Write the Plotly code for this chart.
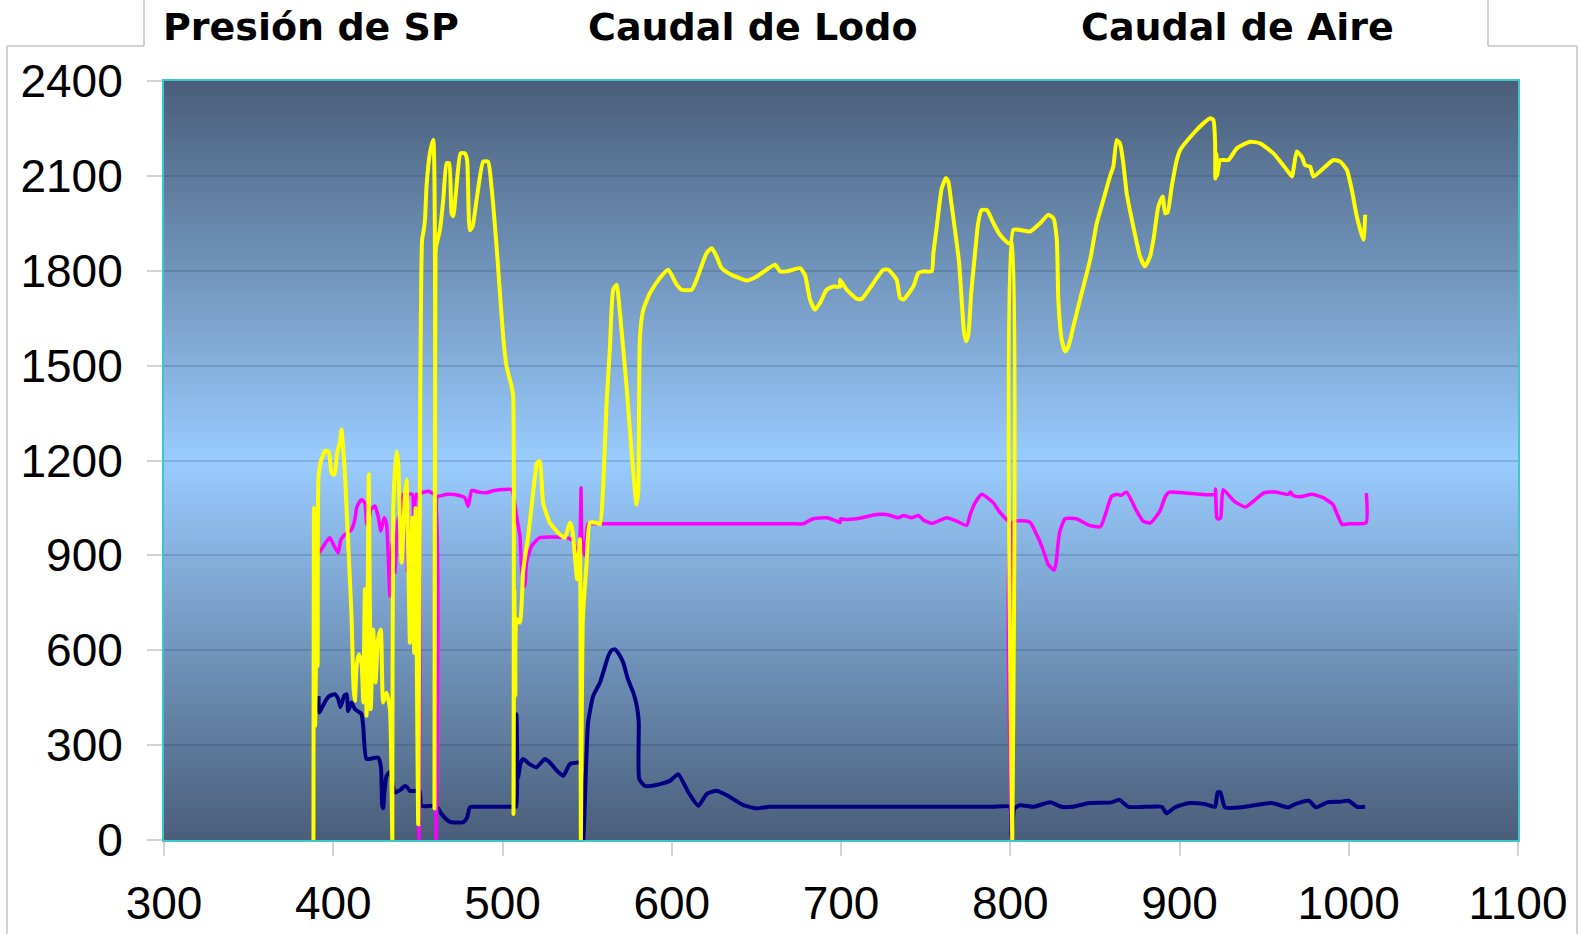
import base64, struct, zlib
import plotly.graph_objects as go

# ---------------- data ----------------
yellow_x = [388.3, 388.6, 389.3, 390.0, 390.7, 391.3, 393.1, 395.5, 397.5, 399.0, 400.8, 402.3, 403.9, 404.9,
            405.9, 406.9, 408.8, 410.8, 412.0, 412.8, 413.8, 415.1, 416.7, 417.7, 418.7, 419.7, 421.0, 422.2,
            423.6, 425.0, 426.5, 428.1, 429.5, 431.5, 433.5, 434.9, 435.4, 437.4, 438.4, 439.4, 440.4, 442.3,
            443.3, 444.3, 445.3, 446.7, 447.8, 448.6, 450.2, 451.4, 452.0, 452.5, 453.5, 454.2, 455.1, 457.1,
            459.1, 459.8, 460.4, 460.8, 463.0, 465.0, 467.0, 468.5, 469.9, 470.9, 472.8, 475.2, 477.8, 479.1,
            480.7, 482.3, 484.7, 488.6, 491.5, 493.5, 496.5, 498.5, 500.4, 502.4, 505.4, 506.3, 506.5, 507.0,
            507.6, 508.3, 510.3, 512.3, 515.2, 519.2, 520.5, 522.1, 524.0, 528.0, 533.9, 536.9, 539.8, 541.0,
            542.8, 544.1, 545.7, 546.3, 547.5, 549.7, 551.6, 555.5, 557.6, 559.5, 561.5, 563.5, 565.4, 567.4,
            569.4, 573.3, 576.3, 579.2, 580.2, 581.2, 583.2, 587.1, 593.0, 597.9, 602.9, 605.8, 611.8, 614.7,
            620.6, 623.6, 626.5, 629.5, 634.4, 644.3, 650.2, 661.0, 664.0, 667.9, 675.8, 678.7, 681.7, 684.6,
            687.6, 691.5, 695.5, 699.5, 699.4, 701.4, 703.4, 709.3, 712.3, 717.1, 725.0, 728.0, 732.9, 734.9,
            736.9, 742.7, 745.7, 748.7, 753.6, 754.6, 756.6, 759.5, 762.0, 763.5, 765.0, 769.7, 772.7, 774.0,
            775.3, 777.0, 779.2, 781.0, 783.0, 786.2, 790.1, 794.0, 798.9, 800.8, 801.2, 801.8, 805.8, 811.7,
            817.6, 822.5, 825.5, 827.5, 828.4, 830.4, 832.4, 834.4, 837.3, 841.2, 847.2, 851.1, 855.0, 858.9,
            860.9, 862.9, 864.8, 866.8, 868.8, 872.7, 876.7, 879.6, 882.6, 884.6, 887.5, 890.1, 891.5, 893.0,
            895.4, 898.4, 900.4, 908.2, 914.1, 918.1, 920.0, 921.0, 921.2, 921.8, 922.2, 924.0, 928.9, 933.9,
            941.7, 947.6, 955.5, 963.4, 966.4, 969.3, 972.3, 974.2, 977.2, 979.1, 985.1, 991.0, 995.0, 998.9,
            1001.8, 1004.8, 1008.7, 1009.7]
yellow_y = [0, 1050, 361, 600, 550, 1150, 1205, 1232, 1225, 1160, 1156, 1224, 1256, 1298,
            1235, 1160, 940, 708, 480, 440, 550, 587, 561, 435, 793, 393, 1156, 414,
            666, 498, 635, 666, 435, 466, 414, 0, 1045, 1229, 1193, 993, 877, 1087,
            1140, 898, 624, 1019, 592, 1050, 50, 1400, 1782, 1898, 1930, 1961, 2066, 2171,
            2214, 100, 1850, 1877, 1928, 2024, 2140, 2140, 1982, 1972, 2066, 2171, 2171, 2150,
            1928, 1940, 2024, 2145, 2145, 2066, 1877, 1729, 1592, 1498, 1434, 1403, 82, 790,
            456, 700, 687, 856, 961, 1150, 1193, 1198, 1066, 1003, 966, 956, 1003, 990,
            898, 824, 951, 0, 700, 877, 1003, 1003, 998, 1119, 1382, 1561, 1740, 1756,
            1666, 1434, 1224, 1061, 1100, 1592, 1677, 1729, 1777, 1803, 1756, 1740, 1740, 1772,
            1856, 1871, 1845, 1808, 1790, 1769, 1782, 1819, 1798, 1798, 1808, 1787, 1709, 1677,
            1698, 1740, 1750, 1750, 1772, 1756, 1740, 1711, 1711, 1745, 1803, 1803, 1771, 1714,
            1709, 1750, 1793, 1798, 1798, 1856, 1940, 2060, 2093, 2080, 2022, 1830, 1606, 1577,
            1600, 1734, 1856, 1950, 1992, 1992, 1950, 1913, 1887, 1890, 0, 1929, 1929, 1924,
            1950, 1977, 1966, 1898, 1708, 1582, 1545, 1561, 1624, 1708, 1835, 1950, 2024, 2098,
            2129, 2213, 2203, 2140, 2045, 1940, 1845, 1814, 1845, 1898, 2003, 2035, 1982, 1985,
            2066, 2150, 2182, 2234, 2266, 2282, 2277, 2213, 2092, 2170, 2100, 2150, 2150, 2187,
            2208, 2203, 2171, 2119, 2098, 2177, 2160, 2134, 2129, 2098, 2124, 2150, 2145, 2119,
            2056, 1971, 1898, 1977]

magenta_x = [390.0, 390.1, 391.0, 393.1, 395.5, 398.0, 400.5, 402.9, 404.5, 406.9, 410.8, 412.8, 413.8,
             415.7, 416.7, 418.7, 419.7, 420.6, 422.2, 424.6, 426.5, 428.1, 430.1, 431.5, 433.5, 434.9,
             436.4, 438.2, 440.4, 441.3, 443.3, 443.8, 444.5, 446.7, 447.5, 449.0, 450.2, 450.7, 451.2,
             452.2, 456.2, 460.0, 460.8, 461.5, 462.0, 468.0, 473.9, 477.8, 479.7, 481.7, 482.7, 486.0,
             490.6, 495.0, 500.4, 505.4, 508.3, 510.3, 511.3, 513.2, 514.2, 517.2, 522.1, 537.9, 541.8,
             543.8, 545.7, 546.4, 546.9, 548.5, 550.5, 552.7, 580.0, 610.0, 640.0, 670.0, 677.7, 683.6,
             691.5, 697.5, 699.4, 699.8,
             701.4, 709.3, 721.1, 727.0, 733.9, 736.9, 741.8, 745.8, 748.7, 753.6, 762.5, 768.4, 774.3,
             776.3, 779.2, 783.2, 790.0, 794.0, 799.9, 800.6, 801.0, 801.6, 811.6, 816.0, 818.6, 820.3,
             822.5, 825.8, 826.9, 829.1, 832.4, 839.0, 846.7, 853.3, 859.9, 863.2, 865.5, 868.7, 874.2,
             878.5, 882.9, 888.4, 891.7, 893.9, 903.8, 912.6, 921.0, 921.3, 922.0, 922.8, 924.3, 925.8,
             932.4, 939.0, 944.5, 950.0, 956.5, 964.2, 965.5, 967.0, 970.8, 978.5, 985.1, 990.6, 992.8,
             996.1, 1000.4, 1010.2, 1010.4]
magenta_y = [813, 956, 905, 919, 940, 956, 930, 908, 950, 966, 982, 1014, 1050,
             1071, 1077, 1065, 1003, 992, 1045, 1056, 1024, 977, 1019, 998, 771, 940,
             845, 1010, 1045, 1093, 1093, 850, 1093, 1093, 950, 1093, 1090, 0, 1098,
             1098, 1103, 1090, 0, 1087, 1087, 1093, 1090, 1082, 1055, 1105, 1105, 1100,
             1098, 1105, 1108, 1108, 1024, 961, 856, 803, 877, 929, 956, 956, 945,
             903, 951, 1114, 951, 900, 1000, 1000, 1000, 1000, 1000, 1000, 1000, 1016,
             1019, 1008, 1003, 1016,
             1014, 1016, 1029, 1029, 1019, 1026, 1019, 1026, 1012, 1001, 1019, 1008, 995,
             1029, 1066, 1093, 1066, 1035, 1003, 1003, 0, 1005, 1005, 961, 929, 903,
             871, 853, 870, 971, 1016, 1016, 995, 991, 1087, 1093, 1090, 1100, 1045,
             1008, 1003, 1040, 1087, 1100, 1097, 1093, 1093, 1110, 1019, 1015, 1019, 1108,
             1071, 1053, 1075, 1098, 1100, 1093, 1100, 1090, 1085, 1093, 1082, 1061, 1035,
             998, 1000, 1003, 1097]

navy_x = [391.3, 391.8, 393.5, 396.0, 398.0, 401.0, 403.0, 404.2, 405.5, 406.5, 408.0, 408.8, 410.8,
          412.8, 415.7, 416.7, 417.7, 419.7, 426.5, 428.2, 428.9, 429.5, 430.2, 431.5, 433.5, 436.4,
          440.0, 442.3, 444.0, 445.3, 451.0, 452.0, 459.0, 462.0, 464.0, 468.0, 469.9, 476.8, 479.0,
          480.7, 483.6, 494.0, 505.5, 508.0, 508.3, 508.8, 509.3, 510.5, 512.2, 516.0, 520.1, 525.0, 528.0,
          532.0, 535.9, 539.8, 544.7, 546.0, 547.7, 549.5, 550.6, 553.6, 557.6, 562.5, 564.5, 566.4,
          568.5, 571.3, 574.0, 577.3, 579.5, 580.5, 580.8, 584.2, 591.0, 598.9, 603.8, 609.8, 615.7,
          620.6, 626.5, 632.4, 642.3, 650.2, 658.0, 680.0, 710.0, 740.0, 770.0, 790.0, 799.8, 800.8,
          802.5, 805.8, 813.7, 823.6, 830.2,
          836.8, 846.7, 859.9, 864.3, 869.8, 880.0, 889.5, 892.4, 897.2, 906.0, 914.8, 921.0, 922.5, 924.1,
          926.9, 939.0, 954.4, 964.2, 968.6, 976.4, 980.7, 987.3, 995.0, 999.8, 1004.9, 1009.7]
navy_y = [455, 403, 420, 445, 456, 461, 445, 420, 440, 456, 461, 408, 435,
          414, 403, 398, 361, 256, 261, 230, 110, 100, 150, 203, 215, 150,
          160, 171, 165, 155, 155, 108, 108, 100, 82, 60, 56, 56, 70,
          103, 105, 105, 105, 105, 398, 200, 198, 240, 256, 240, 230, 256, 245,
          220, 203, 240, 245, 245, 0, 250, 372, 456, 498, 582, 600, 603,
          590, 561, 510, 466, 420, 372, 193, 171, 174, 187, 208, 151, 108,
          145, 156, 142, 110, 100, 105, 105, 105, 105, 105, 105, 105, 10,
          100, 110, 105, 119, 105,
          105, 117, 119, 127, 105, 105, 105, 84, 103, 117, 114, 105, 151, 151,
          103, 105, 117, 103, 114, 124, 103, 119, 121, 124, 105, 105]

titles = ["Presión de SP", "Caudal de Lodo", "Caudal de Aire"]
x_ticks = [300, 400, 500, 600, 700, 800, 900, 1000, 1100]
y_ticks = [0, 300, 600, 900, 1200, 1500, 1800, 2100, 2400]

# ---------------- layout geometry ----------------
W, H = 1581, 934
ML, MR, MT, MB = 164, 63, 81, 94
PW, PH = W - ML - MR, H - MT - MB


def px_to_paper_x(px):
    return (px - ML) / PW


def px_to_paper_y(py):
    return (H - MB - py) / PH


# ---------------- vertical gradient background as PNG ----------------
def gradient_png(h, edge, center):
    rows = b""
    for i in range(h):
        t = i / (h - 1)
        f = 1 - abs(t - 0.5) * 2  # 0 at edges, 1 at centre
        c = [round(edge[k] + (center[k] - edge[k]) * f) for k in range(3)]
        rows += b"\x00" + bytes(c)

    def chunk(tag, data):
        c = struct.pack(">I", len(data)) + tag + data
        return c + struct.pack(">I", zlib.crc32(tag + data) & 0xffffffff)

    png = b"\x89PNG\r\n\x1a\n"
    png += chunk(b"IHDR", struct.pack(">IIBBBBB", 1, h, 8, 2, 0, 0, 0))
    png += chunk(b"IDAT", zlib.compress(rows))
    png += chunk(b"IEND", b"")
    return "data:image/png;base64," + base64.b64encode(png).decode()


bg = gradient_png(512, (74, 94, 122), (153, 204, 255))

fig = go.Figure()
fig.add_trace(go.Scatter(x=navy_x, y=navy_y, mode="lines", name="Caudal de Aire",
                         line=dict(color="#000080", width=4, shape="spline", smoothing=0.5)))
fig.add_trace(go.Scatter(x=magenta_x, y=magenta_y, mode="lines", name="Caudal de Lodo",
                         line=dict(color="#FF00FF", width=3.5, shape="spline", smoothing=0.5)))
fig.add_trace(go.Scatter(x=yellow_x, y=yellow_y, mode="lines", name="Presión de SP",
                         line=dict(color="#FFFF00", width=4, shape="spline", smoothing=0.5)))

tick_font = dict(family="Liberation Sans, Arial, sans-serif", size=46, color="black")

fig.update_layout(
    width=W, height=H, autosize=False,
    margin=dict(l=ML, r=MR, t=MT, b=MB, autoexpand=False),
    paper_bgcolor="white", plot_bgcolor="rgba(0,0,0,0)",
    showlegend=False,
    xaxis=dict(range=[300, 1100], tickvals=x_ticks, ticktext=[str(v) for v in x_ticks],
               automargin=False,
               showgrid=False, zeroline=False, showline=True, mirror=True,
               linecolor="#3cc8c8", linewidth=2, ticks="outside", ticklen=14,
               tickcolor="#d4d4d4", tickwidth=1.5, tickfont=tick_font, ticklabelstandoff=8),
    yaxis=dict(range=[0, 2400], tickvals=y_ticks, ticktext=[str(v) for v in y_ticks],
               automargin=False,
               showgrid=True, gridcolor="rgba(30,50,85,0.18)", gridwidth=1.5,
               zeroline=False, showline=True, mirror=True,
               linecolor="#3cc8c8", linewidth=2, ticks="outside", ticklen=15,
               tickcolor="#d4d4d4", tickwidth=1.5, tickfont=tick_font, ticklabelstandoff=15),
    images=[dict(source=bg, xref="x domain", yref="y domain", x=0, y=1, sizex=1, sizey=1,
                 xanchor="left", yanchor="top", sizing="stretch", layer="below")],
)

# faint bluish band line in the background
BAND_Y = 1838
fig.add_shape(type="line", xref="x domain", yref="y", x0=0, x1=1, y0=BAND_Y, y1=BAND_Y,
              line=dict(color="rgba(70,120,190,0.55)", width=1.5), layer="below")

# frame around chart with a title notch
frame = dict(color="#c4c4c4", width=1.5)
frame_pts = [
    [(7, H + 5), (7, 46), (144, 46), (144, -5)],
    [(1488, -5), (1488, 46), (1577, 46), (1577, H + 5)],
]
for pts in frame_pts:
    for (a, b) in zip(pts[:-1], pts[1:]):
        fig.add_shape(type="line", xref="paper", yref="paper",
                      x0=px_to_paper_x(a[0]), y0=px_to_paper_y(a[1]),
                      x1=px_to_paper_x(b[0]), y1=px_to_paper_y(b[1]), line=frame)

title_centers = [311, 753, 1237]
for t, cx in zip(titles, title_centers):
    fig.add_annotation(text="<b>%s</b>" % t, xref="paper", yref="paper",
                       x=px_to_paper_x(cx), y=px_to_paper_y(27), xanchor="center", yanchor="middle",
                       showarrow=False,
                       font=dict(family="DejaVu Sans, sans-serif", size=38, color="black"))

fig.write_html("out.html", config={"displayModeBar": False},
               post_script="document.body.style.margin='0';")
